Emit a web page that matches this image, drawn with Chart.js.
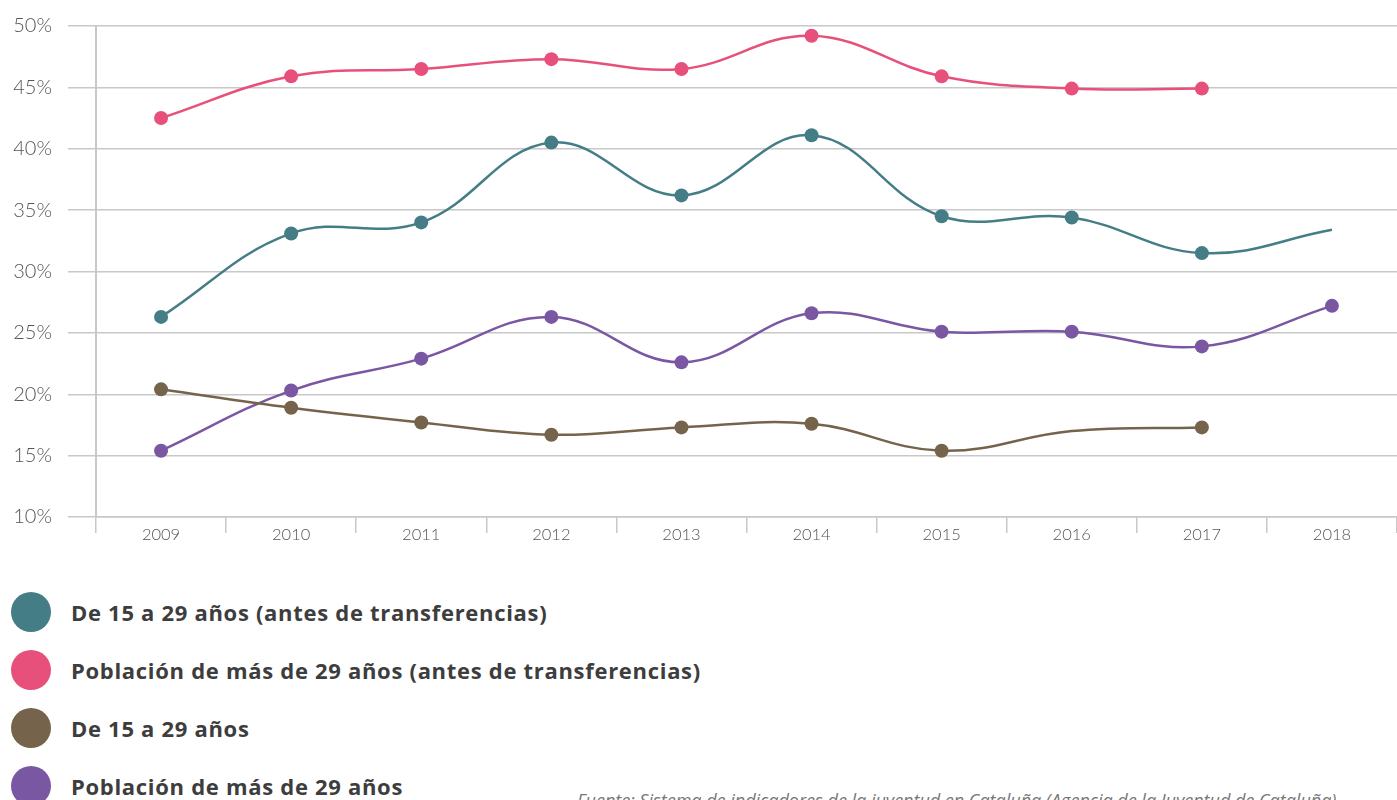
<!DOCTYPE html>
<html>
<head>
<meta charset="utf-8">
<script src="https://cdn.jsdelivr.net/npm/chart.js@4/dist/chart.umd.min.js"></script>
<style>
  html, body { margin: 0; padding: 0; background: #fff; overflow: hidden; }
  #wrap { position: absolute; left: 1px; top: -2px; width: 1403px; height: 562px; }
  #legend { position: absolute; left: 11px; top: 583px; }
  .item { display: flex; align-items: center; height: 58px; }
  .dot { width: 40px; height: 40px; border-radius: 50%; margin-right: 20px; }
  .lbl { font-family: "Open Sans", sans-serif; font-weight: 700; font-size: 22px; letter-spacing: 0.7px; color: #3d3d3d; }
  #source { position: absolute; left: 577px; top: 788px; font-family: "Open Sans", sans-serif; font-style: italic; font-size: 18px; color: #777; white-space: nowrap; }
</style>
</head>
<body>
<div id="wrap"><canvas id="chart"></canvas></div>
<div id="legend"></div>
<div id="source">Fuente: Sistema de indicadores de la juventud en Cataluña (Agencia de la Juventud de Cataluña)</div>
<script>
const years = ['2009', '2010', '2011', '2012', '2013', '2014', '2015', '2016', '2017', '2018'];
const young_before = [26.3, 33.1, 34.0, 40.5, 36.2, 41.1, 34.5, 34.4, 31.5, 33.4];
const older_before = [42.5, 45.9, 46.5, 47.3, 46.5, 49.2, 45.9, 44.9, 44.9, null];
const young = [20.4, 18.9, 17.7, 16.7, 17.3, 17.6, 15.4, 17.0, 17.3, null];
const older = [15.4, 20.3, 22.9, 26.3, 22.6, 26.6, 25.1, 25.1, 23.9, 27.2];
const seriesNames = [
  'De 15 a 29 años (antes de transferencias)',
  'Población de más de 29 años (antes de transferencias)',
  'De 15 a 29 años',
  'Población de más de 29 años'
];
const seriesColors = ['#447d86', '#e8507c', '#75644b', '#7a57a3'];
// some years are drawn without a marker in the original
const noMarker = [[9], [], [7], []];

const datasets = [young_before, older_before, young, older].map((vals, i) => ({
  label: seriesNames[i],
  data: vals,
  borderColor: seriesColors[i],
  backgroundColor: seriesColors[i],
  borderWidth: 2.5,
  tension: 0.4,
  pointRadius: vals.map((v, j) => noMarker[i].includes(j) ? 0 : 7),
  pointHoverRadius: 7,
  pointBorderWidth: 0,
  spanGaps: false,
}));

const grey = '#c8c8c8';

new Chart(document.getElementById('chart'), {
  type: 'line',
  data: { labels: years, datasets },
  options: {
    responsive: true,
    maintainAspectRatio: false,
    animation: false,
    layout: { padding: { top: 23, right: 0, bottom: 0, left: 0 } },
    plugins: { legend: { display: false }, tooltip: { enabled: false } },
    scales: {
      x: {
        offset: true,
        grid: { offset: true, drawOnChartArea: false, drawTicks: true, tickLength: 16, color: grey, lineWidth: 1.5 },
        border: { color: grey, width: 1.5 },
        ticks: { color: '#555', font: { family: 'Lato', size: 16.5, weight: 300 }, padding: -8 },
        afterFit: s => { s.height = 43; }
      },
      y: {
        min: 10,
        max: 50,
        ticks: {
          stepSize: 5,
          color: '#555',
          padding: 16,
          font: { family: 'Lato', size: 20, weight: 300 },
          callback: v => v + '%'
        },
        grid: { color: grey, lineWidth: 1.5, drawTicks: true, tickLength: 28 },
        border: { color: grey, width: 2 },
        afterFit: s => { s.width = 95; }
      }
    }
  }
});

const legend = document.getElementById('legend');
seriesNames.forEach((name, i) => {
  const row = document.createElement('div');
  row.className = 'item';
  row.innerHTML = '<span class="dot" style="background:' + seriesColors[i] + '"></span><span class="lbl">' + name + '</span>';
  legend.appendChild(row);
});
</script>
</body>
</html>
